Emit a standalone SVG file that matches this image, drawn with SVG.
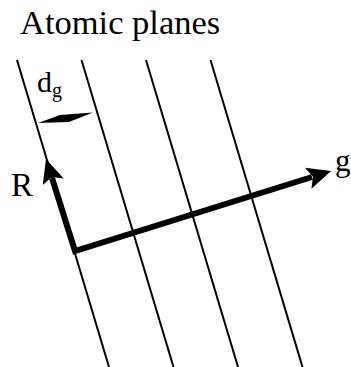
<svg xmlns="http://www.w3.org/2000/svg" width="351" height="367" viewBox="0 0 351 367">
<style>
.plane{stroke:#000;stroke-width:2;fill:none}
.lbl{font-family:"Liberation Serif","Times New Roman",serif;fill:#000}
</style>
<defs>
<marker id="ah" viewBox="0 0 24 22" refX="4" refY="11" markerWidth="24" markerHeight="22" markerUnits="userSpaceOnUse" orient="auto-start-reverse">
<path d="M0,0 L24,11 L0,22 L5,11 Z" fill="#000"/>
</marker>
</defs>
<rect width="351" height="367" fill="#fff"/>
<g id="title"><text class="lbl" x="20" y="34" font-size="34.5">Atomic planes</text></g>
<g id="planes">
<line class="plane" x1="17" y1="60" x2="109" y2="367"/>
<line class="plane" x1="81.5" y1="60" x2="173.5" y2="367"/>
<line class="plane" x1="146" y1="60" x2="238" y2="367"/>
<line class="plane" x1="210.5" y1="60" x2="302.5" y2="367"/>
</g>
<g id="connectors">
<polyline points="52,178 75,251 312,177" fill="none" stroke="#000" stroke-width="6" stroke-linejoin="miter" marker-start="url(#ah)" marker-end="url(#ah)"/>
<polygon id="dg-arrow" points="38,123 60,115 93,112.5 69,122" fill="#000"/>
</g>
<g id="label-dg"><text class="lbl" x="37" y="92" font-size="30">d<tspan font-size="20" dy="5">g</tspan></text></g>
<g id="label-R"><text class="lbl" x="11" y="196" font-size="33">R</text></g>
<g id="label-g"><text class="lbl" x="335" y="171" font-size="31">g</text></g>
</svg>
